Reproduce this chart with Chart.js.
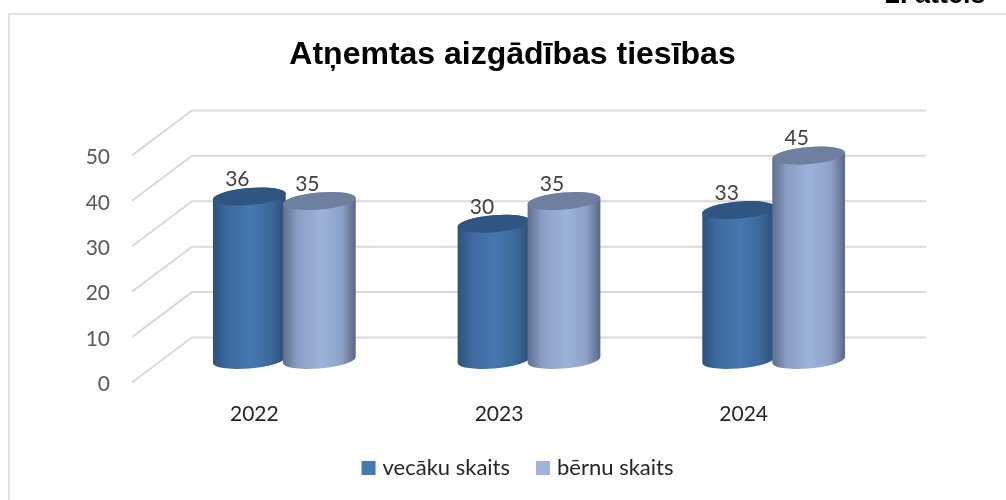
<!DOCTYPE html>
<html>
<head>
<meta charset="utf-8">
<style>html,body{margin:0;padding:0;background:#fff}canvas{display:block}</style>
<script src="https://cdn.jsdelivr.net/npm/chart.js@4"></script>
</head>
<body>
<canvas id="c" width="1006" height="500"></canvas>
<script>
const categories = ['2022', '2023', '2024'];
const vecakuSkaits = [36, 30, 33];
const bernuSkaits = [35, 35, 45];
const chartTitle = 'Atņemtas aizgādības tiesības';
const figureCaption = '2. attēls';

const DEPTH_X = 60, DEPTH_Y = -45;
const stopAt = [0, 0.2, 0.52, 0.8, 1];
const looks = [
  { stops: ['#2b527f', '#3e6a9e', '#4677b0', '#3c6899', '#294c75'], cap: '#2f5583' },
  { stops: ['#5f6e8e', '#8a9dc4', '#9db3dc', '#8ea2c8', '#5a6785'], cap: '#6f7f9f' }
];

const scene = {
  id: 'scene',
  afterLayout(chart) {
    const lg = chart.legend, h = lg.height;
    lg.top = 427; lg.bottom = lg.top + h;
    lg.left += 7; lg.right += 7;
  },
  beforeDraw(chart) {
    const c = chart.ctx;
    c.save();
    c.strokeStyle = '#d9d9d9'; c.lineWidth = 1.5;
    c.beginPath(); c.moveTo(9, 500); c.lineTo(9, 14); c.lineTo(1006, 14); c.stroke();
    c.fillStyle = '#000'; c.font = 'bold 27px "Liberation Sans"';
    c.textAlign = 'left'; c.textBaseline = 'alphabetic';
    c.fillText(figureCaption, 885, 3);
    c.restore();
  },
  beforeDatasetsDraw(chart) {
    const c = chart.ctx, y = chart.scales.y, x = chart.scales.x;
    c.save();
    c.strokeStyle = '#d9d9d9'; c.lineWidth = 2;
    y.ticks.forEach(t => {
      const py = y.getPixelForValue(t.value);
      c.beginPath();
      c.moveTo(x.left, py);
      c.lineTo(x.left + DEPTH_X, py + DEPTH_Y);
      c.lineTo(x.right + DEPTH_X, py + DEPTH_Y);
      c.stroke();
    });
    const base = y.getPixelForValue(0) + DEPTH_Y / 2;
    categories.forEach((_, j) => {
      chart.data.datasets.forEach((ds, i) => {
        const el = chart.getDatasetMeta(i).data[j];
        const cx = el.x + DEPTH_X / 2, top = el.y + DEPTH_Y / 2;
        const a = (el.width + 3) / 2, b = 8.5, phi = -0.085;
        const t0 = Math.atan(-(b / a) * Math.tan(phi));
        const g = c.createLinearGradient(cx - a, 0, cx + a, 0);
        const l = looks[i];
        stopAt.forEach((s, k) => g.addColorStop(s, l.stops[k]));
        c.fillStyle = g;
        c.beginPath();
        c.ellipse(cx, base, a, b, phi, t0, t0 + Math.PI);
        c.ellipse(cx, top, a, b, phi, t0 + Math.PI, t0 + 2 * Math.PI);
        c.closePath(); c.fill();
        c.fillStyle = l.cap;
        c.beginPath(); c.ellipse(cx, top, a, b, phi, 0, 2 * Math.PI); c.fill();
      });
    });
    c.font = '21px Lato'; c.fillStyle = '#404040';
    c.textAlign = 'center'; c.textBaseline = 'middle';
    categories.forEach((_, j) => {
      chart.data.datasets.forEach((ds, i) => {
        const el = chart.getDatasetMeta(i).data[j];
        c.fillText(String(ds.data[j]), el.x + DEPTH_X / 2 - 12, el.y + DEPTH_Y / 2 - 17);
      });
    });
    c.restore();
    return false;
  }
};

new Chart(document.getElementById('c'), {
  type: 'bar',
  plugins: [scene],
  data: {
    labels: categories,
    datasets: [
      { label: 'vecāku skaits', data: vecakuSkaits, backgroundColor: '#4677b0', borderColor: '#4677b0', borderWidth: 8 },
      { label: 'bērnu skaits', data: bernuSkaits, backgroundColor: '#9db3dc', borderColor: '#9db3dc', borderWidth: 8 }
    ]
  },
  options: {
    responsive: false,
    animation: false,
    layout: { padding: { left: 19, right: 0, top: 0, bottom: 0 } },
    datasets: { bar: { categoryPercentage: 140 / 244.67, barPercentage: 1 } },
    plugins: {
      tooltip: { enabled: false },
      title: {
        display: true, text: chartTitle, color: '#000',
        font: { family: '"Liberation Sans"', size: 32, weight: 'bold', lineHeight: 1.2 },
        padding: { top: 36, bottom: 81 }
      },
      legend: {
        position: 'bottom',
        labels: { boxWidth: 6, boxHeight: 6, padding: 30, color: '#262626', font: { family: 'Lato', size: 22 } }
      }
    },
    scales: {
      x: {
        grid: { display: false }, border: { display: false },
        ticks: { color: '#262626', font: { family: 'Lato', size: 21 }, padding: 11, maxRotation: 0 },
        afterFit(s) { s.height = 117.5 - (s.chart.legend ? s.chart.legend.height || 0 : 0); }
      },
      y: {
        min: 0, max: 50,
        grid: { display: false }, border: { display: false },
        ticks: { stepSize: 10, color: '#595959', font: { family: 'Lato', size: 21 }, padding: 14, labelOffset: 2 },
        afterFit(s) { s.width = 113; }
      },
      yRight: {
        position: 'right', display: true, min: 0, max: 1,
        grid: { display: false }, border: { display: false },
        ticks: { display: false },
        afterFit(s) { s.width = 140; }
      }
    }
  }
});
</script>
</body>
</html>
